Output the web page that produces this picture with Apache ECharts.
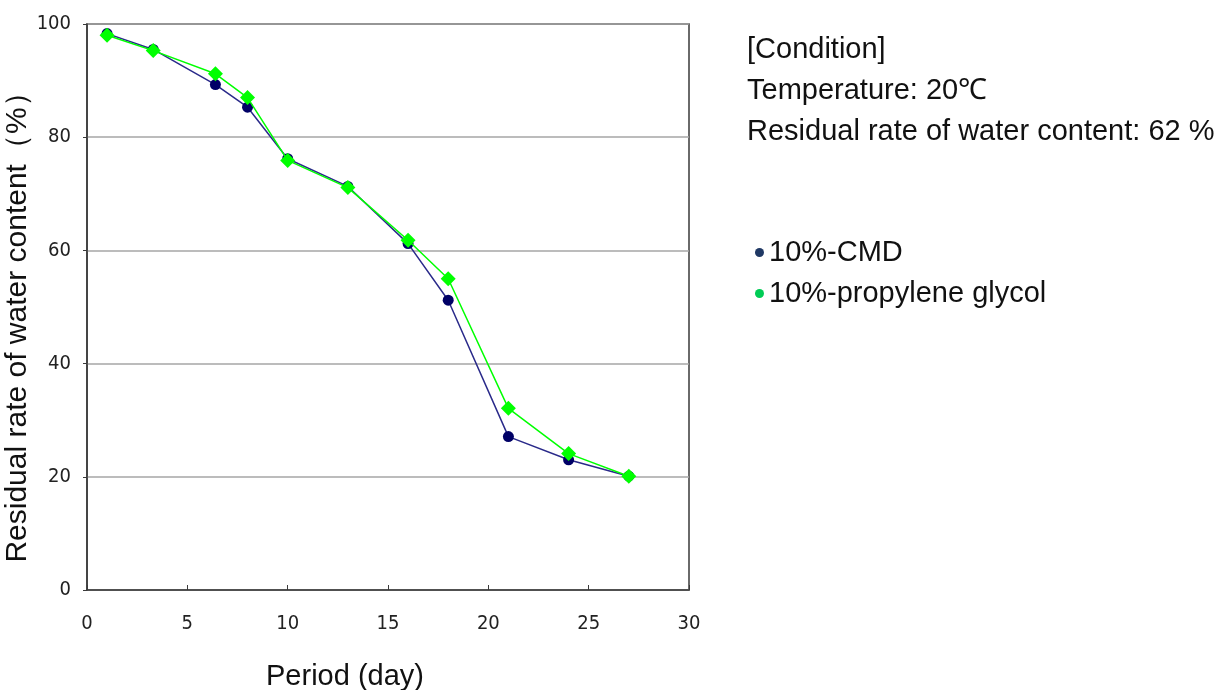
<!DOCTYPE html>
<html>
<head>
<meta charset="utf-8">
<script src="https://cdn.jsdelivr.net/npm/echarts@6/dist/echarts.min.js"></script>
<style>
html,body{margin:0;padding:0;background:#fff;}
#chart{width:1221px;height:690px;}
</style>
</head>
<body>
<div id="chart"></div>
<script>
// Data
const days = [1, 3.3, 6.4, 8, 10, 13, 16, 18, 21, 24, 27];
const cmdValues = [98.3, 95.5, 89.3, 85.3, 76.2, 71.3, 61.2, 51.2, 27.1, 23.0, 20.1];
const pgValues = [98.0, 95.3, 91.2, 87.0, 75.9, 71.1, 61.8, 55.0, 32.1, 24.1, 20.1];
const seriesNames = ['10%-CMD', '10%-propylene glycol'];
const xTicks = [0, 5, 10, 15, 20, 25, 30];
const yTicks = [0, 20, 40, 60, 80, 100];
const conditionLines = ['[Condition]', 'Temperature: 20℃', 'Residual rate of water content: 62 %'];
const xTitle = 'Period (day)';
const yTitle = 'Residual rate of water content（%）';

const chart = echarts.init(document.getElementById('chart'));
const font = '"Liberation Sans", Arial, sans-serif';
const tickFont = '"Liberation Sans Narrow", "DejaVu Sans Condensed", "Liberation Sans", sans-serif';

chart.setOption({
  animation: false,
  backgroundColor: '#fff',
  title: {
    text: conditionLines.join('\n'),
    left: 747,
    top: 29,
    padding: 0,
    textStyle: { fontFamily: font, fontSize: 29, fontWeight: 'normal', color: '#111', lineHeight: 41 }
  },
  legend: {
    orient: 'vertical',
    left: 750,
    top: 233,
    itemWidth: 9,
    itemHeight: 9,
    itemGap: 12,
    icon: 'circle',
    textStyle: { fontFamily: font, fontSize: 29, color: '#111' },
    data: [
      { name: seriesNames[0], itemStyle: { color: '#1f3864' } },
      { name: seriesNames[1], itemStyle: { color: '#00cc55' } }
    ]
  },
  grid: {
    left: 87, right: 532, top: 24, bottom: 100,
    outerBoundsMode: 'none',
    containLabel: false,
    show: true, borderColor: '#3a3a3a', borderWidth: 1.5, backgroundColor: 'transparent'
  },
  xAxis: {
    type: 'value',
    min: xTicks[0], max: xTicks[xTicks.length - 1], interval: 5,
    name: xTitle,
    nameLocation: 'middle',
    nameGap: 72,
    nameTextStyle: { fontFamily: font, fontSize: 29, color: '#111', padding: [0, 86, 0, 0] },
    axisLine: { show: true, onZero: false, lineStyle: { color: '#3a3a3a', width: 1.5 } },
    axisTick: { show: true, inside: true, length: 5, lineStyle: { color: '#3a3a3a' } },
    axisLabel: { fontFamily: tickFont, fontSize: 20, color: '#222', margin: 24 },
    splitLine: { show: false }
  },
  yAxis: {
    type: 'value',
    min: yTicks[0], max: yTicks[yTicks.length - 1], interval: 20,
    name: yTitle,
    nameLocation: 'middle',
    nameGap: 48,
    nameTextStyle: { fontFamily: font, fontSize: 30, color: '#111', padding: [0, 26, 0, 0] },
    axisLine: { show: true, lineStyle: { color: '#3a3a3a', width: 1.5 } },
    axisTick: { show: true, inside: false, length: 4, lineStyle: { color: '#3a3a3a' } },
    axisLabel: { fontFamily: tickFont, fontSize: 20, color: '#222', margin: 16 },
    splitLine: { show: true, lineStyle: { color: '#a6a6a6', width: 1.5 } }
  },
  series: [
    {
      name: seriesNames[0],
      type: 'line',
      data: days.map((d, i) => [d, cmdValues[i]]),
      symbol: 'circle',
      symbolSize: 11,
      itemStyle: { color: '#000066' },
      lineStyle: { color: '#2a2a8a', width: 1.5 },
      z: 2
    },
    {
      name: seriesNames[1],
      type: 'line',
      data: days.map((d, i) => [d, pgValues[i]]),
      symbol: 'diamond',
      symbolSize: 15,
      itemStyle: { color: '#00ff00' },
      lineStyle: { color: '#00ff00', width: 1.5 },
      z: 3
    }
  ]
});
</script>
</body>
</html>
